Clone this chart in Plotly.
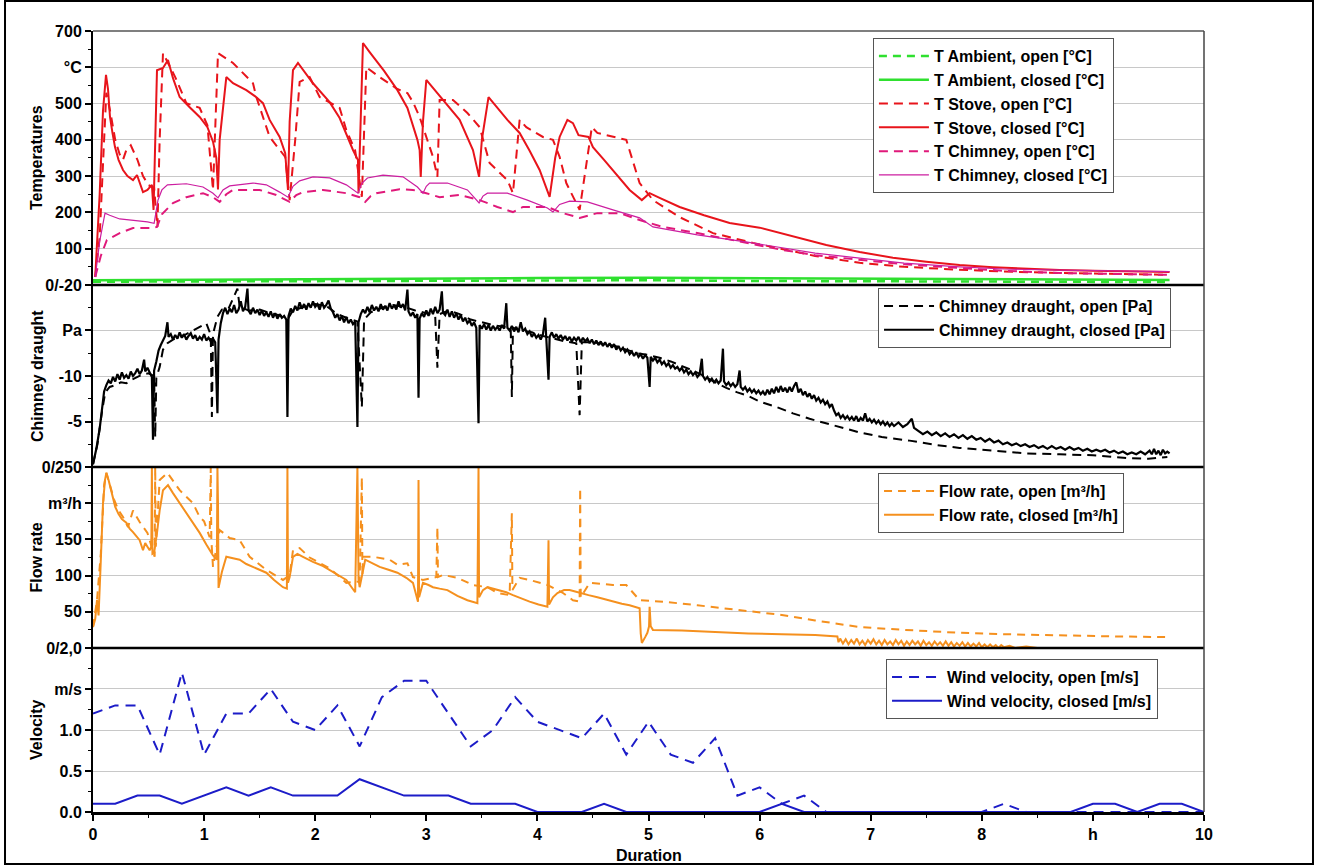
import plotly.graph_objects as go

# ---------------- DATA ----------------
# Temperatures [°C]  (time h, value)
t_ambient_open = [(0.0, 9), (1.0, 10), (2.0, 11), (3.0, 12), (4.0, 12), (4.8, 14), (5.0, 13), (6.0, 11), (7.0, 10), (8.0, 9), (9.0, 8), (9.69, 8)]
t_ambient_closed = [(0.0, 13), (1.0, 15), (2.0, 17), (3.0, 19), (4.0, 19), (5.0, 20), (6.0, 19), (7.0, 17), (8.0, 15), (9.0, 14), (9.69, 14)]
t_stove_open = [(0.02, 22), (0.06, 132), (0.1, 400), (0.12, 530), (0.16, 470), (0.2, 400), (0.24, 360), (0.27, 345), (0.3, 372),
                (0.34, 385), (0.4, 345), (0.45, 300), (0.5, 275), (0.55, 268), (0.58, 160), (0.6, 400), (0.63, 639), (0.74, 573),
                (0.84, 501), (0.96, 488), (1.03, 440), (1.08, 262), (1.125, 639), (1.26, 612), (1.44, 556), (1.47, 518), (1.59, 408),
                (1.73, 353), (1.77, 234), (1.82, 400), (1.86, 560), (1.95, 573), (2.04, 518), (2.22, 488), (2.28, 427), (2.36, 370),
                (2.42, 243), (2.46, 600), (2.58, 573), (2.74, 540), (2.83, 529), (2.88, 504), (2.94, 463), (3.06, 353), (3.1, 298),
                (3.12, 510), (3.24, 510), (3.37, 474), (3.48, 435), (3.57, 336), (3.73, 289), (3.78, 253), (3.84, 455), (3.9, 435),
                (4.05, 408), (4.14, 400), (4.2, 353), (4.26, 281), (4.38, 207), (4.49, 435), (4.54, 419), (4.68, 408), (4.8, 400),
                (4.92, 281), (5.04, 234), (5.28, 187), (5.58, 143), (5.94, 116), (6.2, 100), (6.5, 80), (6.9, 61), (7.3, 50),
                (7.8, 42), (8.2, 37), (8.7, 33), (9.2, 30), (9.67, 28)]
t_stove_closed = [(0.02, 22), (0.06, 250), (0.09, 480), (0.117, 579), (0.135, 540), (0.153, 463), (0.175, 420), (0.198, 380),
                  (0.23, 345), (0.27, 317), (0.31, 300), (0.36, 289), (0.396, 303), (0.42, 280), (0.45, 256), (0.49, 262),
                  (0.53, 276), (0.545, 207), (0.565, 420), (0.576, 592), (0.63, 598), (0.675, 620), (0.72, 570), (0.78, 518),
                  (0.87, 490), (0.96, 463), (1.03, 435), (1.08, 395), (1.11, 350), (1.125, 263), (1.14, 400), (1.2, 573),
                  (1.26, 556), (1.38, 537), (1.46, 520), (1.53, 501), (1.59, 455), (1.68, 408), (1.73, 363), (1.755, 262),
                  (1.77, 450), (1.8, 592), (1.845, 612), (1.98, 556), (2.13, 504), (2.22, 460), (2.34, 372), (2.385, 344),
                  (2.39, 253), (2.41, 500), (2.43, 667), (2.49, 642), (2.62, 590), (2.74, 537), (2.83, 488), (2.92, 400),
                  (2.94, 372), (2.95, 298), (2.97, 450), (3.0, 565), (3.15, 510), (3.3, 455), (3.42, 372), (3.475, 298),
                  (3.5, 400), (3.56, 518), (3.73, 455), (3.84, 419), (3.93, 370), (4.02, 317), (4.11, 243), (4.16, 350),
                  (4.2, 408), (4.27, 455), (4.32, 446), (4.37, 413), (4.46, 408), (4.5, 380), (4.6, 345), (4.68, 317),
                  (4.83, 262), (4.94, 234), (5.01, 253), (5.1, 240), (5.28, 215), (5.5, 192), (5.73, 171), (6.0, 158),
                  (6.3, 133), (6.6, 110), (6.9, 91), (7.2, 75), (7.5, 64), (7.8, 55), (8.1, 49), (8.4, 44), (8.7, 41),
                  (9.0, 39), (9.3, 37), (9.69, 36)]
t_chimney_open = [(0.02, 22), (0.07, 80), (0.125, 124), (0.24, 143), (0.36, 157), (0.49, 157), (0.54, 157), (0.576, 160),
                  (0.62, 195), (0.72, 226), (0.84, 242), (0.99, 253), (1.08, 242), (1.14, 229), (1.2, 250), (1.26, 262),
                  (1.5, 262), (1.65, 248), (1.77, 229), (1.83, 248), (1.89, 256), (2.07, 262), (2.28, 253), (2.4, 242),
                  (2.45, 229), (2.5, 245), (2.55, 253), (2.76, 264), (2.88, 262), (3.0, 253), (3.12, 242), (3.3, 248),
                  (3.48, 234), (3.64, 215), (3.78, 201), (3.87, 215), (4.09, 215), (4.23, 198), (4.38, 185), (4.54, 198),
                  (4.74, 198), (4.92, 179), (5.13, 160), (5.44, 143), (5.89, 116), (6.18, 98), (6.5, 82), (6.9, 69),
                  (7.3, 57), (7.8, 47), (8.2, 39), (8.7, 33), (9.2, 30), (9.67, 28)]
t_chimney_closed = [(0.02, 22), (0.06, 120), (0.108, 198), (0.15, 192), (0.24, 182), (0.36, 179), (0.49, 174), (0.55, 170),
                    (0.585, 234), (0.62, 262), (0.67, 276), (0.84, 279), (0.99, 270), (1.08, 253), (1.125, 240), (1.17, 262),
                    (1.23, 273), (1.44, 281), (1.56, 276), (1.68, 256), (1.755, 242), (1.8, 272), (1.86, 287), (1.98, 298),
                    (2.13, 295), (2.28, 276), (2.385, 253), (2.42, 280), (2.47, 295), (2.61, 303), (2.79, 298), (2.92, 270),
                    (2.97, 253), (3.0, 272), (3.03, 281), (3.19, 281), (3.37, 262), (3.475, 226), (3.51, 245), (3.55, 253),
                    (3.73, 253), (3.91, 234), (4.09, 212), (4.14, 201), (4.2, 222), (4.29, 231), (4.45, 229), (4.68, 207),
                    (4.92, 185), (5.04, 160), (5.2, 152), (5.44, 138), (5.89, 118), (6.18, 104), (6.5, 88), (6.9, 74),
                    (7.3, 60), (7.8, 50), (8.2, 44), (8.7, 41), (9.2, 38), (9.69, 37)]

# Chimney draught [Pa]
draught_open = [(0.0, -0.3), (0.04, -2.5), (0.08, -6.0), (0.11, -8.2), (0.15, -8.8), (0.2, -9.0), (0.25, -9.3), (0.3, -9.2),
                (0.35, -9.6), (0.4, -9.9), (0.45, -10.2), (0.5, -10.3), (0.55, -10.0), (0.56, -3.3), (0.57, -9.8), (0.6, -11.0),
                (0.63, -12.9), (0.67, -13.6), (0.72, -14.0), (0.78, -14.3), (0.84, -14.6), (0.9, -15.0), (0.96, -15.4),
                (1.02, -15.8), (1.06, -14.5), (1.07, -5.5), (1.08, -14.6), (1.12, -16.5), (1.16, -17.3), (1.22, -17.4),
                (1.3, -19.6), (1.32, -17.6), (1.4, -17.2), (1.5, -17.3), (1.6, -16.9), (1.7, -16.6), (1.76, -16.4),
                (1.8, -17.2), (1.9, -17.6), (2.0, -17.9), (2.1, -17.7), (2.2, -16.8), (2.3, -16.3), (2.38, -16.0),
                (2.42, -6.6), (2.44, -16.2), (2.5, -17.0), (2.6, -17.5), (2.7, -17.8), (2.8, -17.6), (2.9, -17.2),
                (3.0, -16.9), (3.08, -16.6), (3.1, -10.9), (3.12, -16.8), (3.2, -17.2), (3.3, -16.8), (3.4, -16.2),
                (3.5, -15.9), (3.6, -15.6), (3.7, -15.4), (3.76, -15.2), (3.77, -7.7), (3.78, -15.3), (3.85, -15.0),
                (3.95, -14.8), (4.05, -14.4), (4.15, -14.1), (4.25, -13.8), (4.35, -13.6), (4.38, -5.7), (4.4, -13.7),
                (4.5, -13.7), (4.6, -13.5), (4.7, -13.3), (4.8, -12.9), (4.9, -12.5), (5.0, -12.3), (5.1, -12.0),
                (5.2, -11.6), (5.3, -11.1), (5.4, -10.6), (5.5, -10.0), (5.6, -9.3), (5.7, -8.7), (5.8, -8.2), (5.9, -7.8),
                (6.0, -7.2), (6.15, -6.6), (6.3, -5.9), (6.45, -5.3), (6.6, -4.8), (6.75, -4.3), (6.9, -3.8), (7.1, -3.3),
                (7.35, -2.9), (7.6, -2.4), (7.8, -2.1), (8.1, -1.8), (8.4, -1.5), (8.7, -1.4), (9.0, -1.3), (9.3, -1.0),
                (9.5, -0.9), (9.67, -1.1)]
draught_closed = [(0.0, -0.3), (0.03, -2.0), (0.06, -4.2), (0.08, -6.5), (0.1, -8.3), (0.12, -9.0), (0.14, -9.5), (0.16, -9.2),
                  (0.18, -9.9), (0.2, -9.4), (0.22, -10.2), (0.24, -9.6), (0.26, -10.4), (0.28, -9.8), (0.3, -10.1), (0.32, -9.7),
                  (0.34, -10.5), (0.36, -10.0), (0.38, -10.3), (0.4, -10.8), (0.42, -10.2), (0.44, -10.6), (0.46, -11.8),
                  (0.47, -10.5), (0.49, -10.9), (0.51, -10.4), (0.53, -9.9), (0.54, -3.0), (0.55, -10.6), (0.57, -11.6),
                  (0.59, -12.8), (0.61, -13.4), (0.63, -13.9), (0.65, -14.4), (0.67, -15.9), (0.68, -14.3), (0.7, -14.6),
                  (0.72, -14.0), (0.74, -14.5), (0.76, -14.1), (0.78, -14.8), (0.8, -14.2), (0.82, -14.6), (0.84, -14.0),
                  (0.86, -14.4), (0.88, -14.7), (0.9, -14.1), (0.92, -14.5), (0.94, -13.9), (0.96, -14.3), (0.98, -14.0),
                  (1.0, -14.6), (1.02, -13.9), (1.04, -14.2), (1.06, -13.8), (1.08, -14.1), (1.1, -13.7), (1.12, -5.9),
                  (1.13, -14.0), (1.15, -15.8), (1.17, -16.9), (1.19, -17.5), (1.21, -16.8), (1.23, -17.4), (1.25, -17.0),
                  (1.27, -17.8), (1.29, -16.9), (1.31, -17.3), (1.33, -18.2), (1.35, -17.1), (1.37, -17.6), (1.39, -19.6),
                  (1.4, -17.2), (1.42, -16.8), (1.44, -17.5), (1.46, -16.9), (1.48, -17.3), (1.5, -16.7), (1.52, -17.2),
                  (1.54, -16.6), (1.56, -17.0), (1.58, -16.5), (1.6, -17.1), (1.62, -16.4), (1.64, -16.9), (1.66, -16.3),
                  (1.68, -16.8), (1.7, -16.4), (1.72, -16.6), (1.74, -16.2), (1.75, -5.5), (1.76, -16.6), (1.78, -17.4),
                  (1.8, -17.0), (1.82, -17.7), (1.84, -17.2), (1.86, -18.1), (1.88, -17.4), (1.9, -17.9), (1.92, -17.3),
                  (1.94, -18.0), (1.96, -17.5), (1.98, -18.2), (2.0, -17.6), (2.02, -17.9), (2.04, -17.3), (2.06, -18.1),
                  (2.08, -17.5), (2.1, -17.8), (2.12, -18.3), (2.14, -17.4), (2.16, -17.0), (2.18, -16.4), (2.2, -16.8),
                  (2.22, -16.1), (2.24, -16.6), (2.26, -15.9), (2.28, -16.5), (2.3, -15.8), (2.32, -16.2), (2.34, -15.7),
                  (2.36, -16.0), (2.38, -4.4), (2.39, -15.9), (2.41, -16.8), (2.43, -17.3), (2.45, -16.9), (2.47, -17.6),
                  (2.49, -17.0), (2.51, -17.8), (2.53, -17.2), (2.55, -17.6), (2.57, -17.1), (2.59, -17.9), (2.61, -17.3),
                  (2.63, -17.7), (2.65, -17.2), (2.67, -18.0), (2.69, -17.4), (2.71, -17.8), (2.73, -17.3), (2.75, -18.2),
                  (2.77, -17.5), (2.79, -17.9), (2.81, -17.2), (2.83, -19.5), (2.84, -17.1), (2.86, -16.6), (2.88, -17.0),
                  (2.9, -16.4), (2.92, -16.8), (2.93, -7.6), (2.94, -16.3), (2.96, -16.9), (2.98, -16.5), (3.0, -17.2),
                  (3.02, -16.6), (3.04, -17.4), (3.06, -16.8), (3.08, -17.6), (3.1, -16.9), (3.12, -17.3), (3.14, -19.3),
                  (3.15, -17.0), (3.17, -16.7), (3.19, -17.3), (3.21, -16.5), (3.23, -17.1), (3.25, -16.4), (3.27, -16.9),
                  (3.29, -16.2), (3.31, -16.7), (3.33, -16.0), (3.35, -16.4), (3.37, -15.8), (3.39, -16.1), (3.41, -15.5),
                  (3.43, -15.9), (3.45, -15.3), (3.47, -4.8), (3.48, -15.6), (3.5, -15.2), (3.52, -15.7), (3.54, -15.1),
                  (3.56, -15.6), (3.58, -15.0), (3.6, -15.5), (3.62, -15.1), (3.64, -15.4), (3.66, -15.0), (3.68, -15.6),
                  (3.7, -15.2), (3.72, -18.0), (3.73, -15.3), (3.75, -15.0), (3.77, -15.5), (3.79, -14.9), (3.81, -15.4),
                  (3.83, -14.8), (3.85, -15.9), (3.87, -14.9), (3.89, -15.2), (3.91, -14.6), (3.93, -14.9), (3.95, -14.3),
                  (3.97, -14.7), (3.99, -14.2), (4.01, -14.5), (4.03, -14.0), (4.05, -14.6), (4.07, -16.4), (4.08, -14.2),
                  (4.1, -9.6), (4.11, -14.3), (4.13, -14.8), (4.15, -14.2), (4.17, -14.6), (4.19, -14.1), (4.21, -14.5),
                  (4.23, -14.0), (4.25, -14.4), (4.27, -13.9), (4.29, -14.3), (4.31, -13.8), (4.33, -14.2), (4.35, -13.9),
                  (4.37, -14.3), (4.39, -13.7), (4.41, -14.2), (4.43, -13.8), (4.45, -14.1), (4.47, -13.6), (4.49, -14.0),
                  (4.51, -13.5), (4.53, -13.9), (4.55, -13.4), (4.57, -13.8), (4.59, -13.3), (4.61, -13.7), (4.63, -13.2),
                  (4.65, -13.6), (4.67, -13.1), (4.69, -13.5), (4.71, -12.9), (4.73, -13.3), (4.75, -12.8), (4.77, -13.1),
                  (4.79, -12.6), (4.81, -12.9), (4.83, -12.4), (4.85, -12.7), (4.87, -12.2), (4.89, -12.6), (4.91, -12.1),
                  (4.93, -12.4), (4.95, -11.9), (4.97, -12.3), (4.99, -12.0), (5.01, -8.8), (5.02, -12.1), (5.04, -11.7),
                  (5.06, -12.0), (5.08, -11.5), (5.1, -11.8), (5.12, -11.3), (5.14, -11.6), (5.16, -11.1), (5.18, -11.4),
                  (5.2, -10.9), (5.22, -11.2), (5.24, -10.8), (5.26, -11.0), (5.28, -10.6), (5.3, -10.9), (5.32, -10.4),
                  (5.34, -10.7), (5.36, -10.2), (5.38, -10.5), (5.4, -10.1), (5.42, -10.4), (5.44, -9.9), (5.46, -10.2),
                  (5.48, -11.9), (5.49, -10.0), (5.51, -9.6), (5.53, -9.9), (5.55, -9.4), (5.57, -9.7), (5.59, -9.3),
                  (5.61, -9.6), (5.63, -9.2), (5.65, -9.5), (5.67, -13.0), (5.68, -9.4), (5.7, -9.0), (5.72, -9.3),
                  (5.74, -8.9), (5.76, -9.2), (5.78, -8.8), (5.8, -9.1), (5.82, -10.6), (5.83, -8.8), (5.85, -8.5),
                  (5.87, -8.8), (5.89, -8.3), (5.91, -8.6), (5.93, -8.2), (5.95, -8.5), (5.97, -8.1), (5.99, -8.4),
                  (6.01, -8.0), (6.03, -8.3), (6.05, -7.9), (6.07, -8.5), (6.09, -8.0), (6.11, -8.6), (6.13, -8.1),
                  (6.15, -8.8), (6.17, -8.2), (6.19, -8.9), (6.21, -8.3), (6.23, -8.7), (6.25, -8.2), (6.27, -8.8),
                  (6.29, -8.3), (6.31, -8.9), (6.33, -9.3), (6.35, -8.2), (6.37, -8.6), (6.39, -7.9), (6.41, -8.3),
                  (6.43, -7.7), (6.45, -8.1), (6.47, -7.5), (6.49, -7.9), (6.51, -7.3), (6.53, -7.6), (6.55, -7.1),
                  (6.57, -7.4), (6.59, -6.9), (6.61, -7.2), (6.63, -6.6), (6.65, -6.9), (6.67, -6.2), (6.69, -5.7),
                  (6.71, -5.9), (6.73, -5.4), (6.75, -5.7), (6.77, -5.3), (6.79, -5.6), (6.81, -5.2), (6.83, -5.5),
                  (6.85, -5.1), (6.87, -5.6), (6.89, -5.0), (6.91, -5.4), (6.93, -5.1), (6.95, -5.9), (6.97, -5.0),
                  (6.99, -5.3), (7.01, -4.9), (7.03, -5.2), (7.05, -4.8), (7.07, -5.1), (7.09, -4.7), (7.11, -5.0),
                  (7.13, -4.6), (7.15, -4.9), (7.17, -4.5), (7.19, -4.8), (7.21, -4.5), (7.25, -4.9), (7.29, -4.4),
                  (7.33, -4.7), (7.37, -5.3), (7.39, -4.3), (7.43, -3.9), (7.47, -3.6), (7.51, -3.9), (7.55, -3.5),
                  (7.59, -3.8), (7.63, -3.4), (7.67, -3.7), (7.71, -3.3), (7.75, -3.6), (7.79, -3.2), (7.83, -3.5),
                  (7.87, -3.1), (7.91, -3.4), (7.95, -3.0), (7.99, -3.2), (8.03, -2.8), (8.07, -3.1), (8.11, -2.7),
                  (8.15, -2.9), (8.19, -2.5), (8.23, -2.7), (8.27, -2.4), (8.31, -2.6), (8.35, -2.3), (8.39, -2.5),
                  (8.43, -2.2), (8.47, -2.4), (8.51, -2.1), (8.55, -2.3), (8.59, -2.0), (8.63, -2.3), (8.67, -2.0),
                  (8.71, -2.2), (8.75, -1.9), (8.79, -2.2), (8.83, -1.9), (8.87, -2.1), (8.91, -1.8), (8.95, -2.0),
                  (8.99, -1.7), (9.03, -1.9), (9.07, -1.7), (9.11, -1.9), (9.15, -1.6), (9.19, -1.8), (9.23, -1.5),
                  (9.27, -1.7), (9.31, -1.4), (9.35, -1.6), (9.39, -1.4), (9.43, -1.7), (9.47, -1.4), (9.51, -1.8),
                  (9.53, -1.4), (9.55, -2.0), (9.57, -1.4), (9.59, -1.8), (9.61, -1.3), (9.63, -1.9), (9.65, -1.5),
                  (9.67, -1.7), (9.69, -1.5)]

# Flow rate [m³/h]
flow_open = [(0.0, 29), (0.036, 66), (0.07, 130), (0.1, 225), (0.12, 242), (0.15, 225), (0.19, 205), (0.23, 190), (0.27, 181),
             (0.315, 167), (0.36, 190), (0.42, 174), (0.49, 159), (0.555, 126), (0.56, 250), (0.565, 140), (0.6, 232),
             (0.67, 242), (0.78, 218), (0.9, 200), (0.96, 181), (1.0, 175), (1.05, 153), (1.06, 250), (1.065, 150),
             (1.08, 112), (1.14, 163), (1.23, 152), (1.32, 149), (1.41, 126), (1.56, 108), (1.71, 94), (1.77, 100),
             (1.8, 135), (1.86, 138), (1.95, 125), (2.13, 110), (2.28, 90), (2.4, 92), (2.42, 236), (2.425, 100),
             (2.43, 126), (2.52, 126), (2.67, 122), (2.74, 115), (2.83, 117), (2.88, 98), (2.97, 94), (3.09, 98),
             (3.1, 167), (3.105, 98), (3.15, 101), (3.28, 97), (3.42, 87), (3.55, 84), (3.64, 76), (3.75, 73),
             (3.77, 186), (3.775, 80), (3.84, 97), (3.93, 94), (4.09, 87), (4.23, 76), (4.32, 66), (4.38, 64),
             (4.385, 221), (4.39, 70), (4.47, 90), (4.68, 87), (4.8, 87), (4.92, 66), (5.13, 64), (5.44, 59),
             (5.82, 52), (6.18, 46), (6.5, 38), (6.9, 29), (7.3, 25), (7.8, 21), (8.2, 19), (8.7, 18), (9.2, 16),
             (9.67, 15)]
flow_closed = [(0.0, 29), (0.02, 40), (0.036, 66), (0.05, 45), (0.07, 120), (0.09, 200), (0.108, 232), (0.12, 242),
               (0.14, 232), (0.17, 215), (0.2, 195), (0.23, 185), (0.26, 178), (0.3, 173), (0.33, 165), (0.36, 160),
               (0.39, 155), (0.42, 149), (0.45, 135), (0.47, 145), (0.49, 140), (0.51, 135), (0.525, 140), (0.53, 250),
               (0.535, 130), (0.55, 131), (0.576, 159), (0.6, 190), (0.63, 218), (0.675, 225), (0.72, 214), (0.78, 200),
               (0.84, 186), (0.9, 172), (0.96, 159), (1.02, 143), (1.08, 128), (1.115, 122), (1.12, 250), (1.125, 200),
               (1.13, 83), (1.16, 105), (1.2, 126), (1.26, 124), (1.32, 122), (1.38, 116), (1.44, 112), (1.5, 108),
               (1.56, 104), (1.63, 94), (1.71, 84), (1.745, 82), (1.75, 250), (1.755, 90), (1.77, 98), (1.8, 126),
               (1.84, 130), (1.89, 126), (1.98, 119), (2.06, 114), (2.13, 108), (2.2, 101), (2.28, 94), (2.36, 77),
               (2.38, 250), (2.39, 95), (2.4, 84), (2.45, 122), (2.5, 118), (2.58, 112), (2.66, 108), (2.74, 104),
               (2.82, 97), (2.88, 90), (2.925, 64), (2.93, 232), (2.935, 70), (2.97, 90), (3.02, 87), (3.06, 84),
               (3.12, 82), (3.19, 80), (3.28, 72), (3.37, 66), (3.46, 62), (3.47, 250), (3.475, 70), (3.51, 80),
               (3.55, 84), (3.6, 82), (3.66, 80), (3.72, 77), (3.78, 73), (3.86, 68), (3.93, 64), (4.01, 60), (4.09, 57),
               (4.1, 149), (4.105, 60), (4.14, 70), (4.18, 76), (4.24, 80), (4.29, 80), (4.34, 78), (4.38, 76),
               (4.46, 73), (4.54, 70), (4.61, 67), (4.68, 64), (4.76, 61), (4.83, 59), (4.92, 55), (4.93, 20),
               (4.94, 7), (4.97, 15), (4.99, 21), (5.005, 30), (5.01, 57), (5.02, 30), (5.04, 25), (5.3, 24),
               (5.58, 22), (5.9, 20), (6.2, 19), (6.5, 18), (6.7, 16), (6.71, 8), (6.725, 13), (6.75, 6), (6.775, 12),
               (6.8, 5), (6.825, 11), (6.85, 6), (6.875, 13), (6.9, 5), (6.925, 10), (6.95, 4), (6.975, 11), (7.0, 6),
               (7.025, 12), (7.05, 5), (7.075, 10), (7.1, 4), (7.125, 11), (7.15, 5), (7.175, 9), (7.2, 4), (7.225, 11),
               (7.25, 5), (7.275, 10), (7.3, 3), (7.325, 9), (7.35, 4), (7.375, 10), (7.4, 5), (7.425, 9), (7.45, 3),
               (7.475, 10), (7.5, 4), (7.525, 8), (7.55, 3), (7.575, 9), (7.6, 4), (7.625, 8), (7.65, 3), (7.675, 9),
               (7.7, 3), (7.725, 8), (7.75, 2), (7.775, 7), (7.8, 3), (7.825, 8), (7.85, 2), (7.875, 7), (7.9, 2),
               (7.925, 6), (7.95, 2), (7.975, 7), (8.0, 1), (8.025, 5), (8.05, 1), (8.075, 5), (8.1, 1), (8.125, 4),
               (8.15, 0), (8.175, 4), (8.2, 1), (8.25, 3), (8.3, 0), (8.4, 2), (8.5, 0)]

# Wind velocity [m/s]
wind_time = [0.0, 0.2, 0.4, 0.6, 0.8, 1.0, 1.2, 1.4, 1.6, 1.8, 2.0, 2.2, 2.4, 2.6, 2.8, 3.0, 3.2, 3.4, 3.6, 3.8, 4.0,
             4.2, 4.4, 4.6, 4.8, 5.0, 5.2, 5.4, 5.6, 5.8, 6.0, 6.2, 6.4, 6.6, 6.8, 7.0, 7.2, 7.4, 7.6, 7.8, 8.0,
             8.2, 8.4, 8.6, 8.8, 9.0, 9.2, 9.4, 9.6, 9.8, 10.0]
wind_open = [1.2, 1.3, 1.3, 0.7, 1.7, 0.7, 1.2, 1.2, 1.5, 1.1, 1.0, 1.3, 0.8, 1.4, 1.6, 1.6, 1.2, 0.8, 1.0, 1.4, 1.1,
             1.0, 0.9, 1.2, 0.7, 1.1, 0.7, 0.6, 0.9, 0.2, 0.3, 0.1, 0.2, 0.0, 0.0, 0.0, 0.0, 0.0, 0.0, 0.0, 0.0,
             0.1, 0.0, 0.0, 0.0, 0.0, 0.0, 0.0, 0.0, 0.0, 0.0]
wind_closed = [0.1, 0.1, 0.2, 0.2, 0.1, 0.2, 0.3, 0.2, 0.3, 0.2, 0.2, 0.2, 0.4, 0.3, 0.2, 0.2, 0.2, 0.1, 0.1, 0.1, 0.0,
               0.0, 0.0, 0.1, 0.0, 0.0, 0.0, 0.0, 0.0, 0.0, 0.0, 0.1, 0.0, 0.0, 0.0, 0.0, 0.0, 0.0, 0.0, 0.0, 0.0,
               0.0, 0.0, 0.0, 0.0, 0.1, 0.1, 0.0, 0.1, 0.1, 0.0]

# Axis ticks
x_ticks = [0, 1, 2, 3, 4, 5, 6, 7, 8, 9, 10]
x_ticktext = ["0", "1", "2", "3", "4", "5", "6", "7", "8", "h", "10"]
temp_ticks = [0, 100, 200, 300, 400, 500, 600, 700]
temp_ticktext = ["0/-20", "100", "200", "300", "400", "500", "°C", "700"]
draught_ticks = [-5, -10, -15]
draught_ticktext = ["-5", "-10", "Pa"]
flow_ticks = [0, 50, 100, 150, 200, 250]
flow_ticktext = ["0/2,0", "50", "100", "150", "m³/h", "0/250"]
vel_ticks = [0.0, 0.5, 1.0, 1.5]
vel_ticktext = ["0.0", "0.5", "1.0", "m/s"]

# ---------------- FIGURE ----------------
FONT = "Liberation Sans, Arial, sans-serif"
BF = dict(family=FONT, size=16, color="black", weight="bold")

GREEN = "#2fe02f"
RED = "#e8141b"
PINK_OPEN = "#e0197a"
PINK_CLOSED = "#cc1ea0"
ORANGE = "#f5901e"
BLUE = "#1c1cc8"

fig = go.Figure()


def add(series, name, color, width, dash, yaxis, legend):
    xs = [p[0] for p in series]
    ys = [p[1] for p in series]
    fig.add_trace(go.Scatter(x=xs, y=ys, mode="lines", name=name, xaxis="x", yaxis=yaxis, legend=legend,
                             line=dict(color=color, width=width, dash=dash), hoverinfo="skip"))


add(t_ambient_open, "T Ambient, open [°C]", GREEN, 2.5, "8px,6px", "y", "legend")
add(t_ambient_closed, "T Ambient, closed [°C]", GREEN, 2.5, "solid", "y", "legend")
add(t_stove_open, "T Stove, open [°C]", RED, 2, "9px,6px", "y", "legend")
add(t_stove_closed, "T Stove, closed [°C]", RED, 2, "solid", "y", "legend")
add(t_chimney_open, "T Chimney, open [°C]", PINK_OPEN, 2, "9px,6px", "y", "legend")
add(t_chimney_closed, "T Chimney, closed [°C]", PINK_CLOSED, 1.2, "solid", "y", "legend")

add(draught_open, "Chimney draught, open [Pa]", "black", 2, "9px,6px", "y2", "legend2")
add(draught_closed, "Chimney draught, closed [Pa]", "black", 2.2, "solid", "y2", "legend2")

add(flow_open, "Flow rate, open [m³/h]", ORANGE, 2, "8px,6px", "y3", "legend3")
add(flow_closed, "Flow rate, closed [m³/h]", ORANGE, 2, "solid", "y3", "legend3")

fig.add_trace(go.Scatter(x=wind_time, y=wind_open, mode="lines", name="Wind velocity, open [m/s]", xaxis="x", yaxis="y4",
                         legend="legend4", line=dict(color=BLUE, width=2, dash="10px,7px"), hoverinfo="skip"))
fig.add_trace(go.Scatter(x=wind_time, y=wind_closed, mode="lines", name="Wind velocity, closed [m/s]", xaxis="x", yaxis="y4",
                         legend="legend4", line=dict(color=BLUE, width=2, dash="solid"), hoverinfo="skip"))

D4 = [0.0, 0.21]
D3 = [0.21, 0.4417]
D2 = [0.4417, 0.6748]
D1 = [0.6748, 1.0]


def yax(domain, rng, tv, tt, minor_vals):
    return dict(domain=domain, range=rng, anchor="x", tickmode="array", tickvals=tv, ticktext=tt, tickfont=BF,
                showline=True, linecolor="black", linewidth=2, ticks="outside", ticklen=6, tickwidth=1.5,
                tickcolor="black", showgrid=True, gridcolor="#c8c8c8", gridwidth=1, zeroline=False, fixedrange=True,
                minor=dict(tickmode="array", tickvals=minor_vals, ticks="outside", ticklen=3, tickwidth=1,
                           tickcolor="black", showgrid=False))


legend_common = dict(font=BF, bgcolor="white", bordercolor="#555555", borderwidth=1, xanchor="left", yanchor="top",
                     itemwidth=50, tracegroupgap=0, itemclick=False, itemdoubleclick=False)

fig.update_layout(
    width=1319, height=866,
    margin=dict(l=93, r=115, t=31, b=54),
    paper_bgcolor="white", plot_bgcolor="white",
    showlegend=True,
    xaxis=dict(domain=[0, 1], range=[0, 10], anchor="y4", tickmode="array", tickvals=x_ticks, ticktext=x_ticktext,
               tickfont=BF, showline=True, linecolor="black", linewidth=2.5, ticks="outside", ticklen=6, tickwidth=1.5,
               tickcolor="black", showgrid=False, zeroline=False, fixedrange=True,
               minor=dict(tickmode="array", tickvals=[0.5, 1.5, 2.5, 3.5, 4.5, 5.5, 6.5, 7.5, 8.5, 9.5],
                          ticks="outside", ticklen=3, tickwidth=1, tickcolor="black", showgrid=False)),
    yaxis=yax(D1, [0, 700], temp_ticks, temp_ticktext, [50, 150, 250, 350, 450, 550, 650]),
    yaxis2=yax(D2, [0, -20], draught_ticks, draught_ticktext, [-2.5, -7.5, -12.5, -17.5]),
    yaxis3=yax(D3, [0, 250], flow_ticks, flow_ticktext, [25, 75, 125, 175, 225]),
    yaxis4=yax(D4, [0, 2.0], vel_ticks, vel_ticktext, [0.25, 0.75, 1.25, 1.75]),
    legend=dict(x=0.702, y=0.991, **legend_common),
    legend2=dict(x=0.7066, y=0.6709, **legend_common),
    legend3=dict(x=0.7066, y=0.434, **legend_common),
    legend4=dict(x=0.7138, y=0.1959, **legend_common),
)

# panel separators, borders and outer frame
shapes = []
for yy in [D2[1], D3[1], D4[1]]:
    shapes.append(dict(type="line", xref="paper", yref="paper", x0=0, x1=1, y0=yy, y1=yy,
                       line=dict(color="black", width=2.5), layer="above"))
shapes.append(dict(type="line", xref="paper", yref="paper", x0=0, x1=1, y0=1, y1=1,
                   line=dict(color="#555555", width=1.5), layer="above"))
shapes.append(dict(type="line", xref="paper", yref="paper", x0=1, x1=1, y0=0, y1=1,
                   line=dict(color="#444444", width=1.5), layer="above"))
shapes.append(dict(type="rect", xref="paper", yref="paper", x0=-0.0792, x1=1.0981, y0=-0.0666, y1=1.0384,
                   line=dict(color="black", width=2), fillcolor="rgba(0,0,0,0)", layer="above"))
fig.update_layout(shapes=shapes)

# axis titles
titles = [("Temperatures", (D1[0] + D1[1]) / 2), ("Chimney draught", (D2[0] + D2[1]) / 2),
          ("Flow rate", (D3[0] + D3[1]) / 2), ("Velocity", (D4[0] + D4[1]) / 2)]
annotations = []
for txt, yc in titles:
    annotations.append(dict(text=txt, xref="paper", yref="paper", x=-0.0504, y=yc, textangle=-90,
                            showarrow=False, font=BF, xanchor="center", yanchor="middle"))
annotations.append(dict(text="Duration", xref="paper", yref="paper", x=0.5, y=-0.0563, showarrow=False,
                        font=BF, xanchor="center", yanchor="middle"))
fig.update_layout(annotations=annotations)

# remove the default 8px page margin so the 1319x866 figure fills the window exactly
fig.write_html("out.html", config={"displayModeBar": False},
               post_script="document.body.style.margin='0px';document.body.style.overflow='hidden';")
